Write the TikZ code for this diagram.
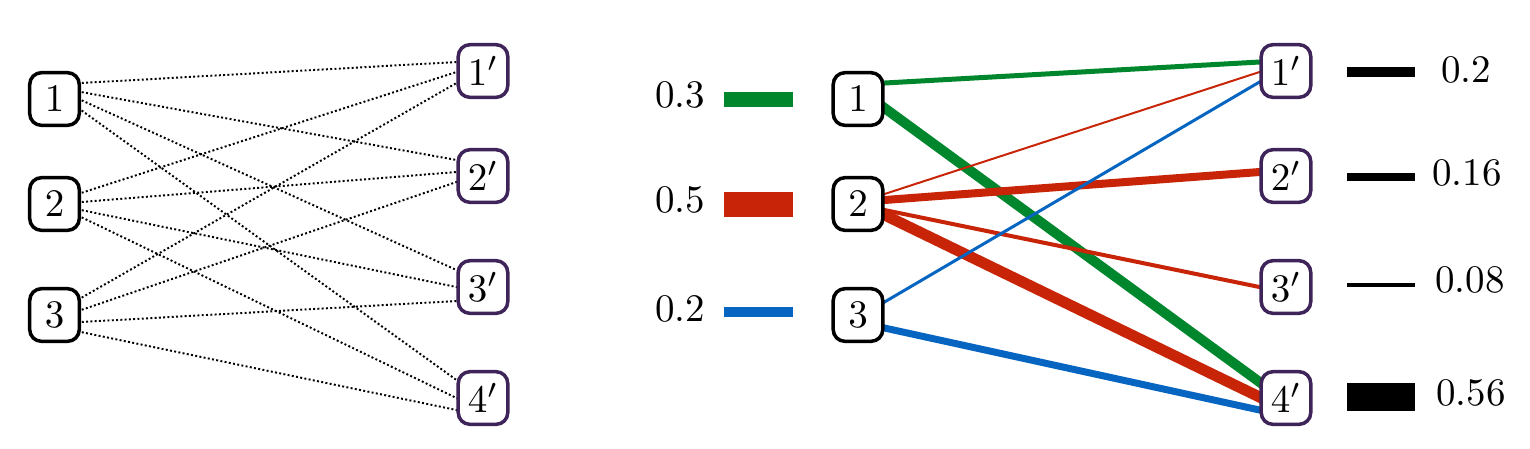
\documentclass[tikz,border=0pt]{standalone}
\usetikzlibrary{calc}
\pgfdeclarelayer{bg}
\pgfsetlayers{bg,main}
\definecolor{cgreen}{RGB}{0,134,44}
\definecolor{cred}{RGB}{200,36,8}
\definecolor{cblue}{RGB}{6,101,192}
\definecolor{cpurple}{RGB}{62,36,88}
\newcommand\linkedge[5]{%
  \path ($(#2.east)+(0,#3)$) coordinate (eS) ($(#4.west)+(0,#5)$) coordinate (eT);
  \draw[#1] ($(eS)!-2pt!(eT)$) -- ($(eT)!-2pt!(eS)$);}
\begin{document}
\begin{tikzpicture}[x=0.2564pt,y=-0.2564pt,
  box/.style={draw, fill=white, line width=0.9pt, rounded corners=3pt,
    minimum width=12.7pt, minimum height=13.5pt, inner sep=0pt},
  lbox/.style={box, draw=black},
  rbox/.style={box, draw=cpurple},
  dotedge/.style={line width=0.5pt, dash pattern=on 0.5pt off 0.6pt},
  lab/.style={inner sep=0pt}]
\useasboundingbox (0,0) rectangle (1530,448);
% ---------- left panel ----------
\node[lbox] (a1) at (54.5,99) {$1$};
\node[lbox] (a2) at (54.5,204) {$2$};
\node[lbox] (a3) at (54.5,315) {$3$};
\node[rbox] (b1) at (483,71) {$1'$};
\node[rbox] (b2) at (483,176) {$2'$};
\node[rbox] (b3) at (483,287) {$3'$};
\node[rbox] (b4) at (483,398) {$4'$};
\begin{pgfonlayer}{bg}
\linkedge{dotedge}{a1}{-16}{b1}{-9}
\linkedge{dotedge}{a1}{-7}{b2}{-16}
\linkedge{dotedge}{a1}{1}{b3}{-17}
\linkedge{dotedge}{a1}{11}{b4}{-18}
\linkedge{dotedge}{a2}{-11}{b1}{1}
\linkedge{dotedge}{a2}{-2}{b2}{-4}
\linkedge{dotedge}{a2}{6}{b3}{0}
\linkedge{dotedge}{a2}{13}{b4}{0}
\linkedge{dotedge}{a3}{-17}{b1}{12}
\linkedge{dotedge}{a3}{-5}{b2}{6}
\linkedge{dotedge}{a3}{7}{b3}{14}
\linkedge{dotedge}{a3}{17}{b4}{12}
\end{pgfonlayer}
% ---------- right panel ----------
\node[lbox] (c1) at (858,99) {$1$};
\node[lbox] (c2) at (858,204) {$2$};
\node[lbox] (c3) at (858,315) {$3$};
\node[rbox] (d1) at (1286,71) {$1'$};
\node[rbox] (d2) at (1286,176) {$2'$};
\node[rbox] (d3) at (1286,287) {$3'$};
\node[rbox] (d4) at (1286,398) {$4'$};
\begin{pgfonlayer}{bg}
\linkedge{cgreen,line width=1.28pt}{c1}{-16}{d1}{-9}
\linkedge{cgreen,line width=2.56pt}{c1}{9}{d4}{-16}
\linkedge{cred,line width=0.51pt}{c2}{-10}{d1}{1}
\linkedge{cred,line width=2.05pt}{c2}{-4}{d2}{-4}
\linkedge{cred,line width=1.03pt}{c2}{6}{d3}{0}
\linkedge{cred,line width=2.82pt}{c2}{11}{d4}{-1}
\linkedge{cblue,line width=0.77pt}{c3}{-13}{d1}{11}
\linkedge{cblue,line width=1.79pt}{c3}{13}{d4}{12}
\end{pgfonlayer}
% ---------- left legend ----------
\coordinate (lg0) at (724,99);  \coordinate (lg1) at (793,99);
\coordinate (lr0) at (724,204); \coordinate (lr1) at (793,204);
\coordinate (lb0) at (724,312); \coordinate (lb1) at (793,312);
\draw[cgreen,line width=3.85pt] (lg0) -- (lg1);
\draw[cred,line width=6.41pt] (lr0) -- (lr1);
\draw[cblue,line width=2.56pt] (lb0) -- (lb1);
\node[lab] (tg) at (680,95) {0.3};
\node[lab] (tr) at (680,200) {0.5};
\node[lab] (tb) at (680,308.5) {0.2};
% ---------- right legend ----------
\coordinate (k10) at (1347,72);  \coordinate (k11) at (1415,72);
\coordinate (k20) at (1347,177); \coordinate (k21) at (1415,177);
\coordinate (k30) at (1347,285); \coordinate (k31) at (1415,285);
\coordinate (k40) at (1347,397); \coordinate (k41) at (1415,397);
\draw[black,line width=2.56pt] (k10) -- (k11);
\draw[black,line width=2.05pt] (k20) -- (k21);
\draw[black,line width=1.03pt] (k30) -- (k31);
\draw[black,line width=7.18pt] (k40) -- (k41);
\node[lab] (s1) at (1466,70) {0.2};
\node[lab] (s2) at (1467,173) {0.16};
\node[lab] (s3) at (1470,280) {0.08};
\node[lab] (s4) at (1471,393) {0.56};
\end{tikzpicture}
\end{document}
